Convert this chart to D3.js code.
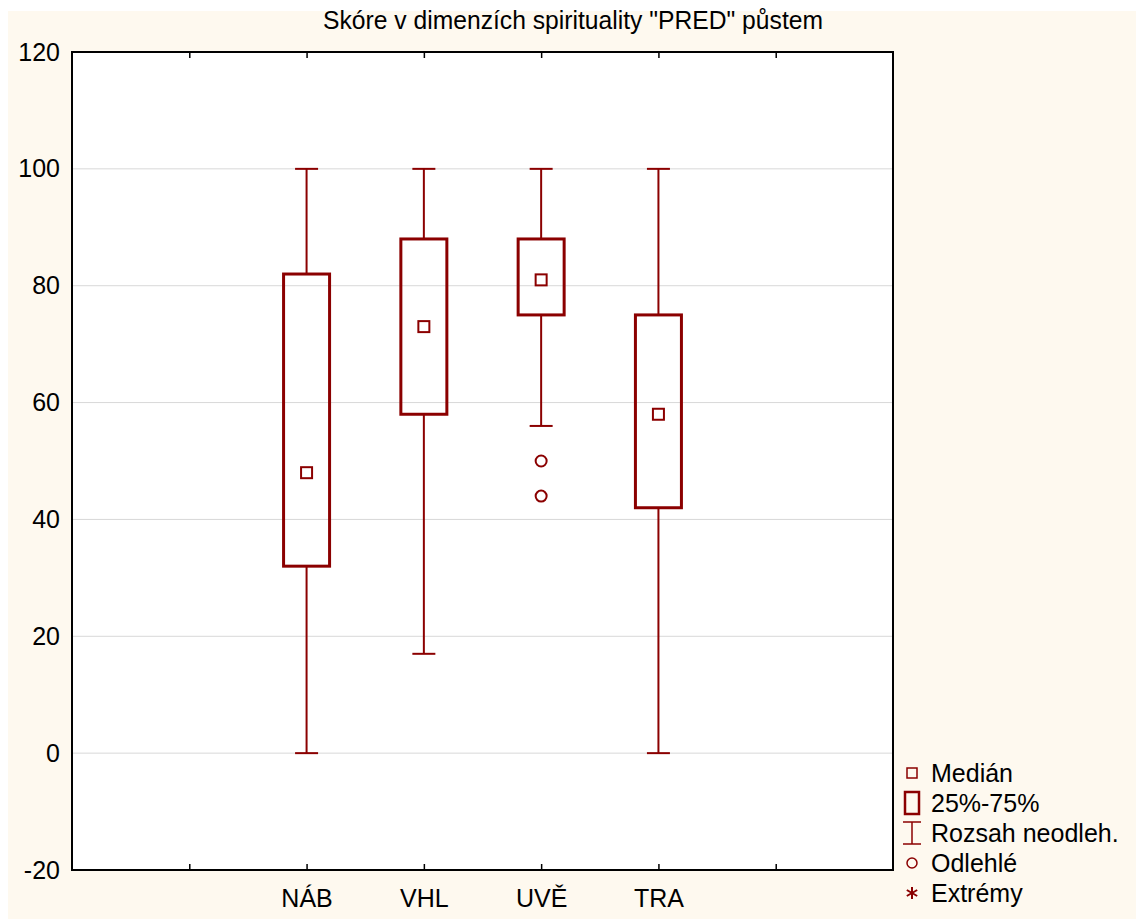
<!DOCTYPE html>
<html><head><meta charset="utf-8">
<script src="https://cdn.jsdelivr.net/npm/d3@7"></script>
<style>body{margin:0;background:#fff}svg{display:block}text{font-family:"Liberation Sans",Arial,sans-serif}</style>
</head><body>
<script>
const categories = ["NÁB", "VHL", "UVĚ", "TRA"];
const mins    = [0, 17, 56, 0];
const q1s     = [32, 58, 75, 42];
const medians = [48, 73, 81, 58];
const q3s     = [82, 88, 88, 75];
const maxs    = [100, 100, 100, 100];
const outliers = [[], [], [50, 44], []];
const yTicks = [-20, 0, 20, 40, 60, 80, 100, 120];
const legendItems = ["Medián", "25%-75%", "Rozsah neodleh.", "Odlehlé", "Extrémy"];
const title = 'Skóre v dimenzích spirituality "PRED" půstem';

const W = 1136, H = 919;
const col = "#8b0000";
const FS = 25;
const svg = d3.select("body").append("svg").attr("width", W).attr("height", H);
svg.append("rect").attr("x", 8).attr("y", 11).attr("width", W - 8).attr("height", H - 11).attr("fill", "#fef9ef");

const L = 72, R = 893, T = 52, B = 870;
const x = d3.scaleLinear().domain([0, 7]).range([L, R]);
const y = d3.scaleLinear().domain([-20, 120]).range([B, T]);
svg.append("rect").attr("x", L).attr("y", T).attr("width", R - L).attr("height", B - T).attr("fill", "#fff");

// gridlines
svg.append("g").selectAll("line").data(yTicks.filter(v => v > -20 && v < 120)).join("line")
  .attr("x1", L).attr("x2", R).attr("y1", d => y(d)).attr("y2", d => y(d))
  .attr("stroke", "#d8d8d8").attr("stroke-width", 1);

// y axis labels
const yAxis = d3.axisLeft(y).tickValues(yTicks).tickSize(0).tickPadding(12).tickFormat(d => String(d));
const gy = svg.append("g").attr("transform", `translate(${L},0)`).call(yAxis);
gy.select(".domain").remove();
gy.selectAll("text").attr("font-size", FS).attr("fill", "#000").attr("font-family", "Liberation Sans, Arial, sans-serif");

// x ticks bottom and top
const tickPos = [1, 2, 3, 4, 5, 6];
const xAxisB = d3.axisBottom(x).tickValues(tickPos).tickSize(-6).tickFormat((d) => { const i = d - 2; return (i >= 0 && i < categories.length) ? categories[i] : ""; }).tickPadding(19);
const gx = svg.append("g").attr("transform", `translate(0,${B})`).call(xAxisB);
gx.select(".domain").remove();
gx.selectAll("line").attr("stroke", "#000").attr("stroke-width", 1.5);
gx.selectAll("text").attr("font-size", FS).attr("fill", "#000").attr("font-family", "Liberation Sans, Arial, sans-serif");
const xAxisT = d3.axisTop(x).tickValues(tickPos).tickSize(-6).tickFormat("");
const gxt = svg.append("g").attr("transform", `translate(0,${T})`).call(xAxisT);
gxt.select(".domain").remove();
gxt.selectAll("line").attr("stroke", "#000").attr("stroke-width", 1.5);

// frame
svg.append("rect").attr("x", L).attr("y", T).attr("width", R - L).attr("height", B - T)
  .attr("fill", "none").attr("stroke", "#000").attr("stroke-width", 2);

// boxes
const bw = 46, cw = 23, ms = 11;
categories.forEach((c, i) => {
  const cx = x(i + 2);
  const g = svg.append("g");
  g.append("line").attr("x1", cx).attr("x2", cx).attr("y1", y(maxs[i])).attr("y2", y(q3s[i])).attr("stroke", col).attr("stroke-width", 2);
  g.append("line").attr("x1", cx).attr("x2", cx).attr("y1", y(q1s[i])).attr("y2", y(mins[i])).attr("stroke", col).attr("stroke-width", 2);
  g.append("line").attr("x1", cx - cw / 2).attr("x2", cx + cw / 2).attr("y1", y(maxs[i])).attr("y2", y(maxs[i])).attr("stroke", col).attr("stroke-width", 2);
  g.append("line").attr("x1", cx - cw / 2).attr("x2", cx + cw / 2).attr("y1", y(mins[i])).attr("y2", y(mins[i])).attr("stroke", col).attr("stroke-width", 2);
  g.append("rect").attr("x", cx - bw / 2).attr("y", y(q3s[i])).attr("width", bw).attr("height", y(q1s[i]) - y(q3s[i]))
    .attr("fill", "none").attr("stroke", col).attr("stroke-width", 3);
  g.append("rect").attr("x", cx - ms / 2).attr("y", y(medians[i]) - ms / 2).attr("width", ms).attr("height", ms)
    .attr("fill", "none").attr("stroke", col).attr("stroke-width", 2);
  outliers[i].forEach(o => {
    g.append("circle").attr("cx", cx).attr("cy", y(o)).attr("r", 5.5).attr("fill", "none").attr("stroke", col).attr("stroke-width", 2);
  });
});

// title
svg.append("text").attr("x", 573).attr("y", 29).attr("text-anchor", "middle").attr("font-size", FS)
  .attr("textLength", 500).attr("lengthAdjust", "spacingAndGlyphs").text(title);

// legend
const lx = 912, lt = 931, ly0 = 773, ldy = 30;
const lg = svg.append("g");
legendItems.forEach((t, i) => {
  const cy = ly0 + i * ldy;
  lg.append("text").attr("x", lt).attr("y", cy).attr("dy", "0.35em").attr("font-size", FS).text(t);
  if (i === 0) lg.append("rect").attr("x", lx - 5).attr("y", cy - 5).attr("width", 10).attr("height", 10).attr("fill", "none").attr("stroke", col).attr("stroke-width", 1.5);
  if (i === 1) lg.append("rect").attr("x", lx - 7).attr("y", cy - 11).attr("width", 14).attr("height", 22).attr("fill", "none").attr("stroke", col).attr("stroke-width", 2.5);
  if (i === 2) {
    lg.append("line").attr("x1", lx).attr("x2", lx).attr("y1", cy - 11).attr("y2", cy + 11).attr("stroke", col).attr("stroke-width", 1.5);
    lg.append("line").attr("x1", lx - 9).attr("x2", lx + 9).attr("y1", cy - 11).attr("y2", cy - 11).attr("stroke", col).attr("stroke-width", 1.5);
    lg.append("line").attr("x1", lx - 9).attr("x2", lx + 9).attr("y1", cy + 11).attr("y2", cy + 11).attr("stroke", col).attr("stroke-width", 1.5);
  }
  if (i === 3) lg.append("circle").attr("cx", lx).attr("cy", cy).attr("r", 5).attr("fill", "none").attr("stroke", col).attr("stroke-width", 1.5);
  if (i === 4) {
    const s = 6;
    [0, 60, 120].forEach(a => {
      const r = a * Math.PI / 180;
      lg.append("line").attr("x1", lx - s * Math.sin(r)).attr("y1", cy - s * Math.cos(r))
        .attr("x2", lx + s * Math.sin(r)).attr("y2", cy + s * Math.cos(r)).attr("stroke", col).attr("stroke-width", 2);
    });
  }
});
</script>
</body></html>
